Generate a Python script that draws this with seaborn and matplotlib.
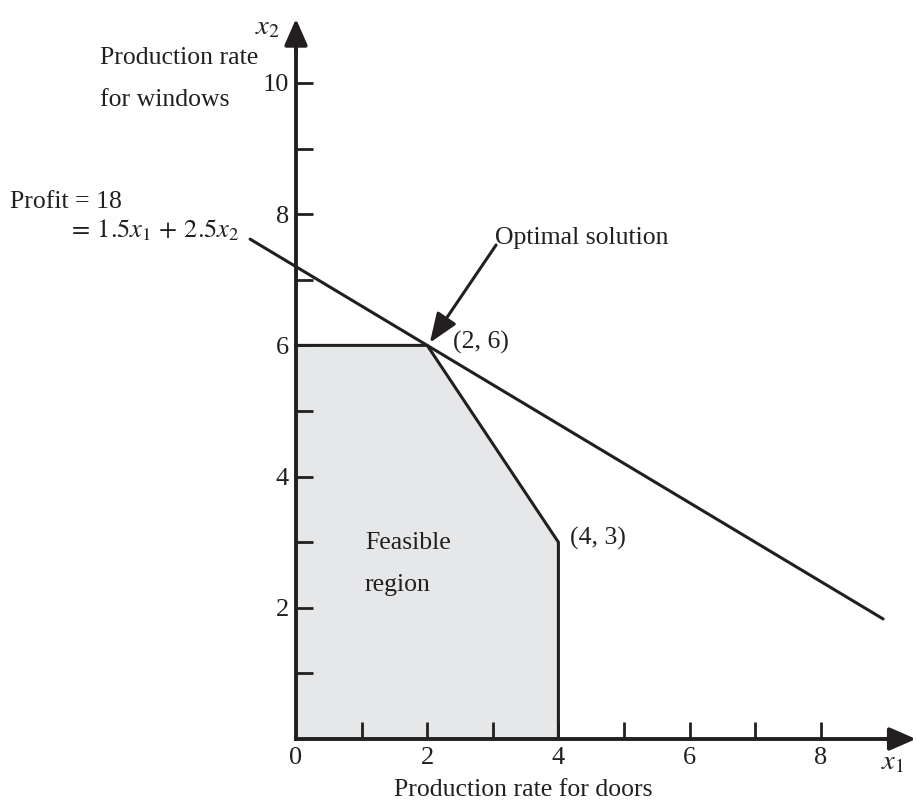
import matplotlib
matplotlib.use("Agg")
import matplotlib.pyplot as plt
import seaborn as sns
import pandas as pd

# feasible region corners (doors x1, windows x2)
region_x1 = [0, 0, 2, 4, 4]
region_x2 = [0, 6, 6, 3, 0]

# boundary drawn on top of the shading (top edge, slanted edge, right edge)
edge_x1 = [0, 2, 4, 4]
edge_x2 = [6, 6, 3, 0]

# profit line 1.5 x1 + 2.5 x2 = 18, endpoints
profit_x1 = [-0.70, 8.95]
profit_x2 = [7.62, 1.83]

x_major = [0, 2, 4, 6, 8]
x_minor = [1, 3, 5, 7]
y_major = [2, 4, 6, 8, 10]
y_minor = [1, 3, 5, 7, 9]

ink = "#231f20"
shade = "#e6e7e9"

sns.set_theme(style="white")
plt.rcParams["font.family"] = ["Liberation Serif", "DejaVu Serif"]
plt.rcParams["mathtext.fontset"] = "stix"

fig = plt.figure(figsize=(9.16, 8), dpi=100)
ax = fig.add_axes([0, 0, 1, 1])
ax.set_facecolor("none")
ax.set_axisbelow(False)
ax.set_xlim(-4.512, 9.451)
ax.set_ylim(-0.930, 11.265)

# shaded feasible region
ax.fill(region_x1, region_x2, color=shade, lw=0, zorder=0.5)

edges = pd.DataFrame({"x1": edge_x1, "x2": edge_x2})
sns.lineplot(data=edges, x="x1", y="x2", sort=False, estimator=None,
             color=ink, lw=2.2, ax=ax, zorder=3)

profit = pd.DataFrame({"x1": profit_x1, "x2": profit_x2})
sns.lineplot(data=profit, x="x1", y="x2", sort=False, estimator=None,
             color=ink, lw=2.2, ax=ax, zorder=3)

# axes through the origin with arrows
for side in ["top", "right"]:
    ax.spines[side].set_visible(False)
ax.spines["left"].set_position(("data", 0))
ax.spines["bottom"].set_position(("data", 0))
ax.spines["left"].set_bounds(0, 10.7)
ax.spines["bottom"].set_bounds(0, 9.15)
for side in ["left", "bottom"]:
    ax.spines[side].set_color(ink)
    ax.spines[side].set_linewidth(2.8)
    ax.spines[side].set_zorder(4)

head = dict(arrowstyle="-|>,head_length=0.8,head_width=0.35", mutation_scale=20,
            color=ink, lw=2.8, shrinkA=0, shrinkB=0)
ax.annotate("", xy=(9.45, 0), xytext=(9.0, 0), arrowprops=head, zorder=4)
ax.annotate("", xy=(0, 10.98), xytext=(0, 10.5), arrowprops=head, zorder=4)

ax.set_xticks(x_major)
ax.set_xticks(x_minor, minor=True)
ax.set_yticks(y_major)
ax.set_yticks(y_minor, minor=True)
ax.tick_params(which="both", direction="in", length=12, width=2, color=ink,
               labelcolor=ink, labelsize=19, bottom=True, left=True,
               top=False, right=False)
ax.tick_params(axis="x", which="major", pad=6)
ax.tick_params(axis="y", which="major", pad=5)
ax.xaxis.set_zorder(4)
ax.yaxis.set_zorder(4)
ax.set_xlabel("")
ax.set_ylabel("")

fs = 18.5
ax.text(9.10, -0.37, r"$x_1$", fontsize=fs + 2, color=ink, ha="center", va="center")
ax.text(-0.44, 10.84, r"$x_2$", fontsize=fs + 2, color=ink, ha="center", va="center")
ax.text(3.46, -0.78, "Production rate for doors", fontsize=fs, color=ink,
        ha="center", va="center")
ax.text(-2.99, 10.38, "Production rate", fontsize=fs, color=ink, ha="left", va="center")
ax.text(-2.99, 9.74, "for windows", fontsize=fs, color=ink, ha="left", va="center")
ax.text(-4.36, 8.19, "Profit = 18", fontsize=fs, color=ink, ha="left", va="center")
ax.text(-3.48, 7.76, r"$=\, 1.5x_1 \,+\, 2.5x_2$", fontsize=fs + 0.5, color=ink,
        ha="left", va="center")
ax.text(3.03, 7.64, "Optimal solution", fontsize=fs, color=ink, ha="left", va="center")
ax.text(2.39, 6.05, "(2, 6)", fontsize=fs, color=ink, ha="left", va="center")
ax.text(4.18, 3.05, "(4, 3)", fontsize=fs, color=ink, ha="left", va="center")
ax.text(1.05, 2.99, "Feasible", fontsize=fs, color=ink, ha="left", va="center")
ax.text(1.05, 2.35, "region", fontsize=fs, color=ink, ha="left", va="center")

ax.annotate("", xy=(2.04, 6.04), xytext=(3.05, 7.53),
            arrowprops=dict(arrowstyle="-|>,head_length=0.9,head_width=0.35",
                            mutation_scale=20, color=ink, lw=2.2,
                            shrinkA=0, shrinkB=0), zorder=5)

fig.savefig("out.png", dpi=100)
